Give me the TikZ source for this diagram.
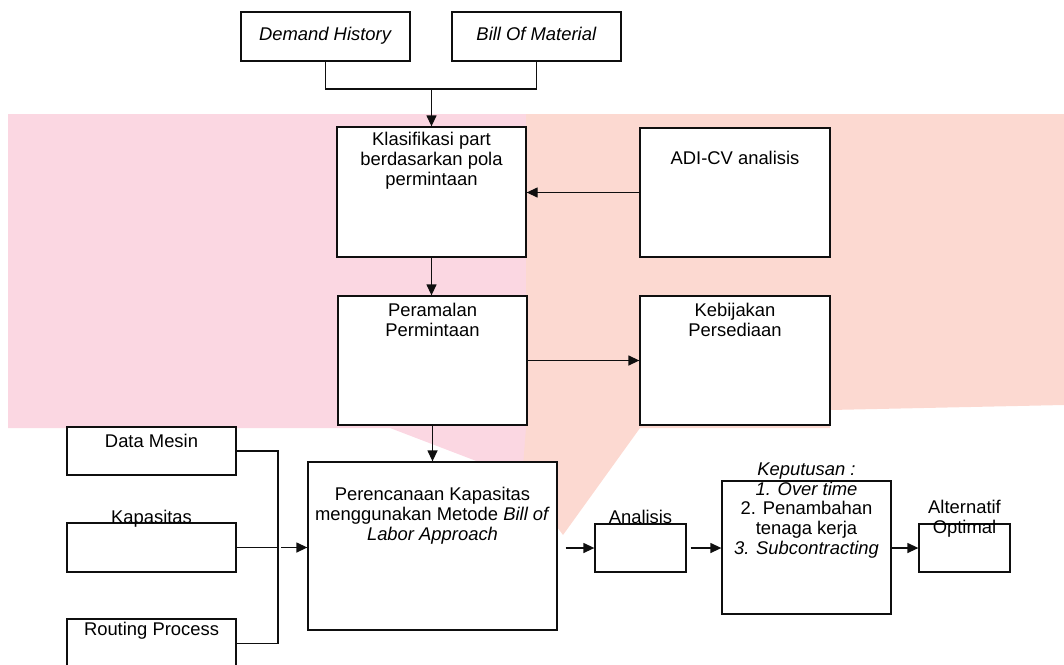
\documentclass[tikz,border=0pt]{standalone}
\usepackage{fontspec}
\setmainfont{Liberation Sans}
\usepackage{tikz}
\usetikzlibrary{arrows.meta, positioning, calc}
\definecolor{markpink}{RGB}{251,215,226}
\definecolor{marksalmon}{RGB}{252,217,209}
\definecolor{edgegray}{RGB}{15,15,15}

\begin{document}
\begin{tikzpicture}[
    x=1pt, y=-1pt,
    box/.style={rectangle, draw=edgegray, fill=white, line width=1.3pt, inner sep=0pt},
    txt/.style={anchor=north, inner sep=0pt, align=center,
                font=\fontsize{18.4}{19.8}\selectfont},
    line/.style={draw=edgegray, line width=1.3pt},
    arrow/.style={-{Triangle[length=11pt, width=10pt]}, line width=1.3pt, edgegray}
]
    \useasboundingbox (0,0) rectangle (1064,664);

    % Watermark
    \fill[markpink] (8,114) -- (526,114) -- (526,480) -- (390,428) -- (8,428) -- cycle;
    \fill[marksalmon] (526,114) -- (1064,114) -- (1064,405) -- (830,410) -- (830,428)
        -- (640,428) -- (563,535) -- (522,480) -- (526,428) -- cycle;

    % Nodes
    \node[box, minimum width=169pt, minimum height=49pt] (dh) at (325.5,36.5) {};
    \node[box, minimum width=169pt, minimum height=49pt] (bom) at (536.5,36.5) {};
    \node[box, minimum width=189pt, minimum height=130pt] (klas) at (431.5,192) {};
    \node[box, minimum width=190pt, minimum height=129pt] (adi) at (735,192.5) {};
    \node[box, minimum width=189pt, minimum height=129pt] (peram) at (432.5,360.5) {};
    \node[box, minimum width=190pt, minimum height=129pt] (kebij) at (735,360.5) {};
    \node[box, minimum width=169pt, minimum height=48pt] (dm) at (151.5,451) {};
    \node[box, minimum width=169pt, minimum height=49pt] (kap) at (151.5,547.5) {};
    \node[box, minimum width=169pt, minimum height=49pt] (rout) at (151.5,643.5) {};
    \node[box, minimum width=249pt, minimum height=168pt] (peren) at (432.5,546) {};
    \node[box, minimum width=91pt, minimum height=48pt] (anal) at (640.5,548) {};
    \node[box, minimum width=169pt, minimum height=133pt] (kep) at (806.5,547.5) {};
    \node[box, minimum width=91pt, minimum height=48pt] (alt) at (964.5,548) {};

    % Texts
    \node[txt] (dhtxt) at ([yshift=-16pt]dh.north) {\textit{Demand History}};
    \node[txt] (bomtxt) at ([yshift=-16pt]bom.north) {\textit{Bill Of Material}};
    \node[txt] (klastxt) at ([yshift=-6pt]klas.north) {Klasifikasi part\\berdasarkan pola\\permintaan};
    \node[txt] (aditxt) at ([yshift=-24pt]adi.north) {ADI-CV analisis};
    \node[txt] (peramtxt) at ([yshift=-8pt]peram.north) {Peramalan\\Permintaan};
    \node[txt] (kebijtxt) at ([yshift=-8pt]kebij.north) {Kebijakan\\Persediaan};
    \node[txt] (dmtxt) at ([yshift=-8pt]dm.north) {Data Mesin};
    \node[txt] (kaptxt) at ([yshift=12pt]kap.north) {Kapasitas};
    \node[txt] (routtxt) at ([yshift=-4pt]rout.north) {Routing Process};
    \node[txt] (perentxt) at ([yshift=-26pt]peren.north)
        {Perencanaan Kapasitas\\menggunakan Metode \textit{Bill of}\\\textit{Labor Approach}};
    \node[txt] (analtxt) at ([yshift=13pt]anal.north) {Analisis};
    \node[txt] (keptxt) at ([yshift=18pt]kep.north)
        {\textit{Keputusan :}\\\textit{1. Over time}\\2. Penambahan\\tenaga kerja\\\textit{3. Subcontracting}};
    \node[txt] (alttxt) at ([yshift=23pt]alt.north) {Alternatif\\Optimal};

    % Connectors
    \coordinate (merge) at (431.5,89);
    \draw[line] (dh.south) |- (merge);
    \draw[line] (bom.south) |- (merge);
    \coordinate (join) at (278,547.5);
    \draw[line] (dm.east) -| (join);
    \draw[line] (rout.east) -| (join);
    \draw[line] (kap.east) -- (join);

    % Arrows
    \draw[arrow] (merge) -- (klas.north);
    \draw[arrow] (adi.west) -- (klas.east |- adi.west);
    \draw[arrow] (klas.south) -- (klas.south |- peram.north);
    \draw[arrow] (peram.east) -- (kebij.west);
    \draw[arrow] (peram.south) -- (peren.north);
    \draw[arrow, shorten <=3pt] (join) -- (join -| peren.west);
    \draw[arrow, shorten <=8pt] (peren.east |- anal.west) -- (anal.west);
    \draw[arrow, shorten <=4pt] (anal.east) -- (anal.east -| kep.west);
    \draw[arrow] (kep.east |- alt.west) -- (alt.west);
\end{tikzpicture}
\end{document}
